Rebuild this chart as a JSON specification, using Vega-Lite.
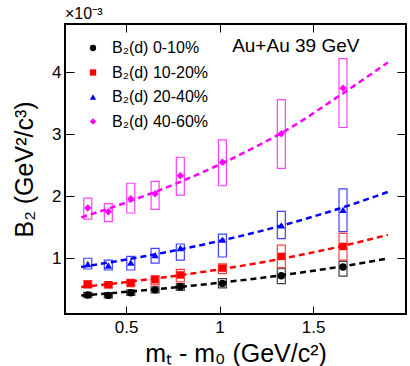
{
  "$schema": "https://vega.github.io/schema/vega-lite/v6.json",
  "width": 341,
  "height": 290,
  "autosize": {"type": "none"},
  "padding": {"left": 65, "top": 24, "right": 4, "bottom": 52},
  "background": "white",
  "config": {
    "font": "Liberation Sans",
    "view": {"stroke": "black", "strokeWidth": 2},
    "axis": {"domain": false, "ticks": false, "grid": true, "gridColor": "black", "gridOpacity": 1, "gridWidth": 1, "labelColor": "black", "titleColor": "black", "labelFont": "Liberation Sans", "titleFont": "Liberation Sans", "labelFontSize": 17, "titleFontSize": 25, "titleFontWeight": "normal", "labelOverlap": false, "labelFlush": false}
  },
  "title": {"text": "×10⁻³", "anchor": "start", "frame": "group", "fontSize": 16, "fontWeight": "normal", "font": "Liberation Sans", "offset": 2, "color": "black"},
  "datasets": {
    "pts": [
      {"s": "B₂(d) 0-10%", "x": 0.295, "y": 0.406, "lo": 0.363, "hi": 0.448},
      {"s": "B₂(d) 0-10%", "x": 0.405, "y": 0.400, "lo": 0.360, "hi": 0.440},
      {"s": "B₂(d) 0-10%", "x": 0.525, "y": 0.443, "lo": 0.400, "hi": 0.490},
      {"s": "B₂(d) 0-10%", "x": 0.655, "y": 0.490, "lo": 0.440, "hi": 0.540},
      {"s": "B₂(d) 0-10%", "x": 0.790, "y": 0.540, "lo": 0.480, "hi": 0.590},
      {"s": "B₂(d) 0-10%", "x": 1.015, "y": 0.594, "lo": 0.520, "hi": 0.670},
      {"s": "B₂(d) 0-10%", "x": 1.330, "y": 0.718, "lo": 0.590, "hi": 0.830},
      {"s": "B₂(d) 0-10%", "x": 1.660, "y": 0.858, "lo": 0.710, "hi": 0.950},
      {"s": "B₂(d) 10-20%", "x": 0.295, "y": 0.577, "lo": 0.520, "hi": 0.637},
      {"s": "B₂(d) 10-20%", "x": 0.405, "y": 0.573, "lo": 0.520, "hi": 0.620},
      {"s": "B₂(d) 10-20%", "x": 0.525, "y": 0.600, "lo": 0.540, "hi": 0.660},
      {"s": "B₂(d) 10-20%", "x": 0.655, "y": 0.653, "lo": 0.570, "hi": 0.720},
      {"s": "B₂(d) 10-20%", "x": 0.790, "y": 0.730, "lo": 0.620, "hi": 0.820},
      {"s": "B₂(d) 10-20%", "x": 1.015, "y": 0.840, "lo": 0.750, "hi": 0.910},
      {"s": "B₂(d) 10-20%", "x": 1.330, "y": 1.030, "lo": 0.850, "hi": 1.210},
      {"s": "B₂(d) 10-20%", "x": 1.660, "y": 1.190, "lo": 0.970, "hi": 1.400},
      {"s": "B₂(d) 20-40%", "x": 0.295, "y": 0.906, "lo": 0.826, "hi": 1.000},
      {"s": "B₂(d) 20-40%", "x": 0.405, "y": 0.884, "lo": 0.810, "hi": 0.970},
      {"s": "B₂(d) 20-40%", "x": 0.525, "y": 0.932, "lo": 0.810, "hi": 1.030},
      {"s": "B₂(d) 20-40%", "x": 0.655, "y": 1.050, "lo": 0.920, "hi": 1.160},
      {"s": "B₂(d) 20-40%", "x": 0.790, "y": 1.165, "lo": 0.970, "hi": 1.230},
      {"s": "B₂(d) 20-40%", "x": 1.015, "y": 1.300, "lo": 1.020, "hi": 1.390},
      {"s": "B₂(d) 20-40%", "x": 1.330, "y": 1.530, "lo": 1.315, "hi": 1.755},
      {"s": "B₂(d) 20-40%", "x": 1.660, "y": 1.780, "lo": 1.430, "hi": 2.120},
      {"s": "B₂(d) 40-60%", "x": 0.295, "y": 1.810, "lo": 1.630, "hi": 1.970},
      {"s": "B₂(d) 40-60%", "x": 0.405, "y": 1.750, "lo": 1.590, "hi": 1.880},
      {"s": "B₂(d) 40-60%", "x": 0.525, "y": 1.960, "lo": 1.730, "hi": 2.210},
      {"s": "B₂(d) 40-60%", "x": 0.655, "y": 2.040, "lo": 1.790, "hi": 2.240},
      {"s": "B₂(d) 40-60%", "x": 0.790, "y": 2.330, "lo": 2.020, "hi": 2.630},
      {"s": "B₂(d) 40-60%", "x": 1.015, "y": 2.550, "lo": 2.170, "hi": 2.910},
      {"s": "B₂(d) 40-60%", "x": 1.330, "y": 3.010, "lo": 2.450, "hi": 3.560},
      {"s": "B₂(d) 40-60%", "x": 1.660, "y": 3.745, "lo": 3.110, "hi": 4.220}
    ],
    "fit": [
      {"s": "B₂(d) 0-10%", "x": 0.26, "y": 0.400},
      {"s": "B₂(d) 0-10%", "x": 0.40, "y": 0.432},
      {"s": "B₂(d) 0-10%", "x": 0.60, "y": 0.483},
      {"s": "B₂(d) 0-10%", "x": 0.80, "y": 0.540},
      {"s": "B₂(d) 0-10%", "x": 1.00, "y": 0.604},
      {"s": "B₂(d) 0-10%", "x": 1.20, "y": 0.675},
      {"s": "B₂(d) 0-10%", "x": 1.40, "y": 0.754},
      {"s": "B₂(d) 0-10%", "x": 1.60, "y": 0.843},
      {"s": "B₂(d) 0-10%", "x": 1.80, "y": 0.942},
      {"s": "B₂(d) 0-10%", "x": 1.90, "y": 0.996},
      {"s": "B₂(d) 10-20%", "x": 0.26, "y": 0.535},
      {"s": "B₂(d) 10-20%", "x": 0.40, "y": 0.580},
      {"s": "B₂(d) 10-20%", "x": 0.60, "y": 0.651},
      {"s": "B₂(d) 10-20%", "x": 0.80, "y": 0.731},
      {"s": "B₂(d) 10-20%", "x": 1.00, "y": 0.820},
      {"s": "B₂(d) 10-20%", "x": 1.20, "y": 0.920},
      {"s": "B₂(d) 10-20%", "x": 1.40, "y": 1.033},
      {"s": "B₂(d) 10-20%", "x": 1.60, "y": 1.159},
      {"s": "B₂(d) 10-20%", "x": 1.80, "y": 1.301},
      {"s": "B₂(d) 10-20%", "x": 1.90, "y": 1.378},
      {"s": "B₂(d) 20-40%", "x": 0.26, "y": 0.860},
      {"s": "B₂(d) 20-40%", "x": 0.40, "y": 0.927},
      {"s": "B₂(d) 20-40%", "x": 0.60, "y": 1.032},
      {"s": "B₂(d) 20-40%", "x": 0.80, "y": 1.149},
      {"s": "B₂(d) 20-40%", "x": 1.00, "y": 1.279},
      {"s": "B₂(d) 20-40%", "x": 1.20, "y": 1.423},
      {"s": "B₂(d) 20-40%", "x": 1.40, "y": 1.584},
      {"s": "B₂(d) 20-40%", "x": 1.60, "y": 1.764},
      {"s": "B₂(d) 20-40%", "x": 1.80, "y": 1.963},
      {"s": "B₂(d) 20-40%", "x": 1.90, "y": 2.071},
      {"s": "B₂(d) 40-60%", "x": 0.26, "y": 1.660},
      {"s": "B₂(d) 40-60%", "x": 0.40, "y": 1.795},
      {"s": "B₂(d) 40-60%", "x": 0.60, "y": 2.008},
      {"s": "B₂(d) 40-60%", "x": 0.80, "y": 2.246},
      {"s": "B₂(d) 40-60%", "x": 1.00, "y": 2.512},
      {"s": "B₂(d) 40-60%", "x": 1.20, "y": 2.810},
      {"s": "B₂(d) 40-60%", "x": 1.40, "y": 3.143},
      {"s": "B₂(d) 40-60%", "x": 1.60, "y": 3.540},
      {"s": "B₂(d) 40-60%", "x": 1.80, "y": 3.950},
      {"s": "B₂(d) 40-60%", "x": 1.90, "y": 4.160}
    ],
    "note": [
      {"label": "Au+Au 39 GeV", "x": 1.067, "y": 4.42}
    ]
  },
  "layer": [
    {
      "layer": [
        {
          "data": {"name": "pts"},
          "mark": {"type": "bar", "width": 8, "filled": false, "fill": "transparent", "strokeWidth": 1.2, "strokeOpacity": 0.75},
          "encoding": {
            "x": {"field": "x", "type": "quantitative", "title": "mₜ - m₀ (GeV/c²)", "scale": {"domain": [0.2, 1.97], "nice": false, "zero": false},
              "axis": {"orient": "bottom", "values": [0.5, 1, 1.5],
                "labelExpr": "datum.value === 0.5 ? '0.5' : datum.value === 1 ? '1' : '1.5'",
                "gridDash": [8, 274, 8, 60],
                "labelPadding": 5, "titlePadding": 6}},
            "y": {"field": "lo", "type": "quantitative", "title": "B₂ (GeV²/c³)", "scale": {"domain": [0.1, 4.78], "nice": false, "zero": false},
              "axis": {"orient": "left", "values": [1, 2, 3, 4],
                "labelExpr": "datum.value === 1 ? '1' : datum.value === 2 ? '2' : datum.value === 3 ? '3' : '4'",
                "gridDash": [9, 323, 9, 60],
                "labelPadding": 4, "titlePadding": 14}},
            "y2": {"field": "hi"},
            "color": {"field": "s", "type": "nominal",
              "scale": {"domain": ["B₂(d) 0-10%", "B₂(d) 10-20%", "B₂(d) 20-40%", "B₂(d) 40-60%"], "range": ["#000000", "#ff0000", "#0000ff", "#ff00ff"]}}
          }
        },
        {
          "data": {"name": "fit"},
          "mark": {"type": "line", "strokeDash": [6, 4], "strokeWidth": 2.5, "interpolate": "monotone"},
          "encoding": {
            "x": {"field": "x", "type": "quantitative", "title": "mₜ - m₀ (GeV/c²)", "scale": {"domain": [0.2, 1.97], "nice": false, "zero": false}},
            "y": {"field": "y", "type": "quantitative", "title": "B₂ (GeV²/c³)", "scale": {"domain": [0.1, 4.78], "nice": false, "zero": false}},
            "color": {"field": "s", "type": "nominal",
              "scale": {"domain": ["B₂(d) 0-10%", "B₂(d) 10-20%", "B₂(d) 20-40%", "B₂(d) 40-60%"], "range": ["#000000", "#ff0000", "#0000ff", "#ff00ff"]}}
          }
        },
        {
          "data": {"name": "pts"},
          "mark": {"type": "point", "filled": true, "size": 55, "opacity": 1},
          "encoding": {
            "x": {"field": "x", "type": "quantitative", "title": "mₜ - m₀ (GeV/c²)", "scale": {"domain": [0.2, 1.97], "nice": false, "zero": false}},
            "y": {"field": "y", "type": "quantitative", "title": "B₂ (GeV²/c³)", "scale": {"domain": [0.1, 4.78], "nice": false, "zero": false}},
            "color": {"field": "s", "type": "nominal",
              "scale": {"domain": ["B₂(d) 0-10%", "B₂(d) 10-20%", "B₂(d) 20-40%", "B₂(d) 40-60%"], "range": ["#000000", "#ff0000", "#0000ff", "#ff00ff"]},
              "legend": {"orient": "none", "legendX": 20, "legendY": 16, "title": null, "padding": 0, "labelFontSize": 16, "labelFont": "Liberation Sans", "labelColor": "black", "symbolSize": 40, "symbolStrokeWidth": 0, "rowPadding": 8.5, "labelOffset": 11}},
            "shape": {"field": "s", "type": "nominal",
              "scale": {"domain": ["B₂(d) 0-10%", "B₂(d) 10-20%", "B₂(d) 20-40%", "B₂(d) 40-60%"], "range": ["circle", "square", "triangle-up", "diamond"]},
              "legend": {"orient": "none", "legendX": 20, "legendY": 16, "title": null, "padding": 0, "labelFontSize": 16, "labelFont": "Liberation Sans", "labelColor": "black", "symbolSize": 40, "symbolStrokeWidth": 0, "rowPadding": 8.5, "labelOffset": 11}}
          }
        },
        {
          "data": {"name": "note"},
          "mark": {"type": "text", "align": "left", "baseline": "middle", "fontSize": 19, "font": "Liberation Sans", "color": "black"},
          "encoding": {
            "x": {"field": "x", "type": "quantitative", "title": "mₜ - m₀ (GeV/c²)", "scale": {"domain": [0.2, 1.97], "nice": false, "zero": false}},
            "y": {"field": "y", "type": "quantitative", "title": "B₂ (GeV²/c³)", "scale": {"domain": [0.1, 4.78], "nice": false, "zero": false}},
            "text": {"field": "label"}
          }
        }
      ]
    },
    {
      "data": {"name": "note"},
      "mark": {"type": "point", "opacity": 0},
      "encoding": {
        "x": {"field": "x", "type": "quantitative", "title": null, "scale": {"domain": [0.2, 1.97], "nice": false, "zero": false},
          "axis": {"orient": "top", "labels": false, "title": null, "values": [0.3,0.4,0.6,0.7,0.8,0.9,1.1,1.2,1.3,1.4,1.6,1.7,1.8,1.9],
            "gridDash": [4, 282, 4, 60]}},
        "y": {"field": "y", "type": "quantitative", "title": null, "scale": {"domain": [0.1, 4.78], "nice": false, "zero": false},
          "axis": {"orient": "right", "labels": false, "title": null, "values": [0.2,0.4,0.6,0.8,1.2,1.4,1.6,1.8,2.2,2.4,2.6,2.8,3.2,3.4,3.6,3.8,4.2,4.4,4.6],
            "gridDash": [5, 331, 5, 60]}}
      }
    }
  ],
  "resolve": {"axis": {"x": "independent", "y": "independent"}}
}
